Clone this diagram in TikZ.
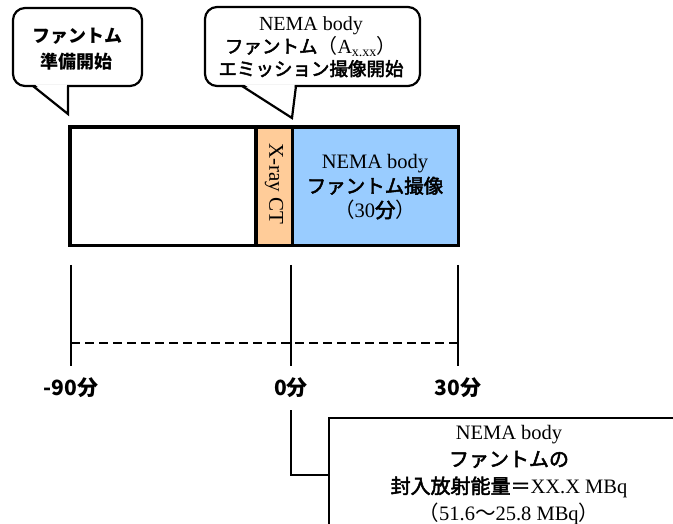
\documentclass[tikz,border=0pt]{standalone}
\usepackage{fontspec}
\setmainfont{Liberation Serif}
\newfontfamily\jp[FakeBold=2.5]{Noto Sans CJK JP}
\newfontfamily\jpr{Noto Sans CJK JP}
\newcommand{\J}[1]{{\jp #1}}
\newcommand{\Jr}[1]{{\jpr #1}}
\newcommand{\JB}[1]{{\jpr\bfseries #1}}
\definecolor{segorange}{HTML}{FFCC99}
\definecolor{segblue}{HTML}{99CCFF}
\begin{document}
\begin{tikzpicture}[x=1pt,y=-1pt,
  seg/.style={draw=none,minimum height=118pt,inner sep=0pt,anchor=north west},
  callout/.style={draw,line width=2.2pt,rounded corners=12pt,inner sep=0pt},
  ticklabel/.style={font=\fontsize{21}{24}\selectfont,inner sep=0pt},
  tickline/.style={line width=1.6pt},
  txt/.style={align=center,inner sep=0pt}]
\useasboundingbox (0,0) rectangle (673,524);
\clip (0,0) rectangle (673,524);
% main bar
\node[seg,fill=white,minimum width=186pt] (prep) at (70,127) {};
\node[seg,fill=segorange,minimum width=36pt] (ct) at (256,127) {};
\node[seg,fill=segblue,minimum width=166pt] (scan) at (292,127) {};
\draw[line width=3.6pt] (prep.north west) rectangle (scan.south east);
\draw[line width=3.6pt] (ct.north west) -- (ct.south west);
\draw[line width=3.6pt] (ct.north east) -- (ct.south east);
\node[txt,rotate=-90,font=\fontsize{21}{22}\selectfont] (ctlabel) at (274,184) {X-ray CT};
\node[txt,font=\fontsize{20.5}{24.5}\selectfont] (scanlabel) at (375,187)
  {NEMA body\\ \J{\fontsize{19.5}{24.5}\selectfont ファントム撮像}\\ \Jr{（}30\J{分}\Jr{）}};
% callout 1
\node[callout,minimum width=129pt,minimum height=78pt] (call1) at (77.5,47) {};
\fill[white] (35,84.5) -- (66.9,84.5) -- (66.9,112) -- cycle;
\coordinate (c1a) at (33,86);
\coordinate (c1tip) at (68,114);
\coordinate (c1b) at (68,86);
\draw[line width=2.2pt,line join=miter] (c1a) -- (c1tip) -- (c1b);
\node[txt,font=\fontsize{18}{26}\selectfont] (call1text) at (77,49) {\JB{ファントム}\\\JB{準備開始}};
% callout 2
\node[callout,minimum width=215pt,minimum height=79pt] (call2) at (312.5,46.5) {};
\fill[white] (244,84.5) -- (294.7,84.5) -- (292.5,115) -- cycle;
\coordinate (c2a) at (242,86);
\coordinate (c2tip) at (292,118);
\coordinate (c2b) at (296,86);
\draw[line width=2.2pt,line join=miter] (c2a) -- (c2tip) -- (c2b);
\node[txt,font=\fontsize{20}{22.5}\selectfont] (call2text) at (311,47)
  {NEMA body\\ \J{\fontsize{18.5}{22.5}\selectfont ファントム}\Jr{（}A\textsubscript{x.xx}\Jr{）}\\ \J{\fontsize{18.5}{22.5}\selectfont エミッション撮像開始}};
% ticks
\coordinate (t1a) at (71,265); \coordinate (t1b) at (71,366);
\coordinate (t2a) at (291,265); \coordinate (t2b) at (291,366);
\coordinate (t3a) at (458,265); \coordinate (t3b) at (458,366);
\draw[tickline] (t1a) -- (t1b);
\draw[tickline] (t2a) -- (t2b);
\draw[tickline] (t3a) -- (t3b);
\coordinate (d1) at (71,343); \coordinate (d2) at (458,343);
\draw[line width=2.2pt,dash pattern=on 9pt off 5pt] (d1) -- (d2);
\node[ticklabel] (l1) at (71,388) {\JB{-90分}};
\node[ticklabel] (l2) at (291,388) {\JB{0分}};
\node[ticklabel] (l3) at (458,388) {\JB{30分}};
% bottom box
\node[draw,line width=1.6pt,minimum width=360pt,minimum height=114pt,inner sep=0pt,
  align=center,font=\fontsize{20.5}{27}\selectfont] (actbox) at (509,475)
  {NEMA body\\ \J{\fontsize{20}{27}\selectfont ファントムの}\\ \J{\fontsize{20}{27}\selectfont 封入放射能量＝}XX.X MBq\\ \Jr{（}51.6\Jr{～}25.8 MBq\Jr{）}};
\coordinate (c0) at (291,410);
\draw[tickline] (c0) |- (actbox.west);
\end{tikzpicture}
\end{document}
